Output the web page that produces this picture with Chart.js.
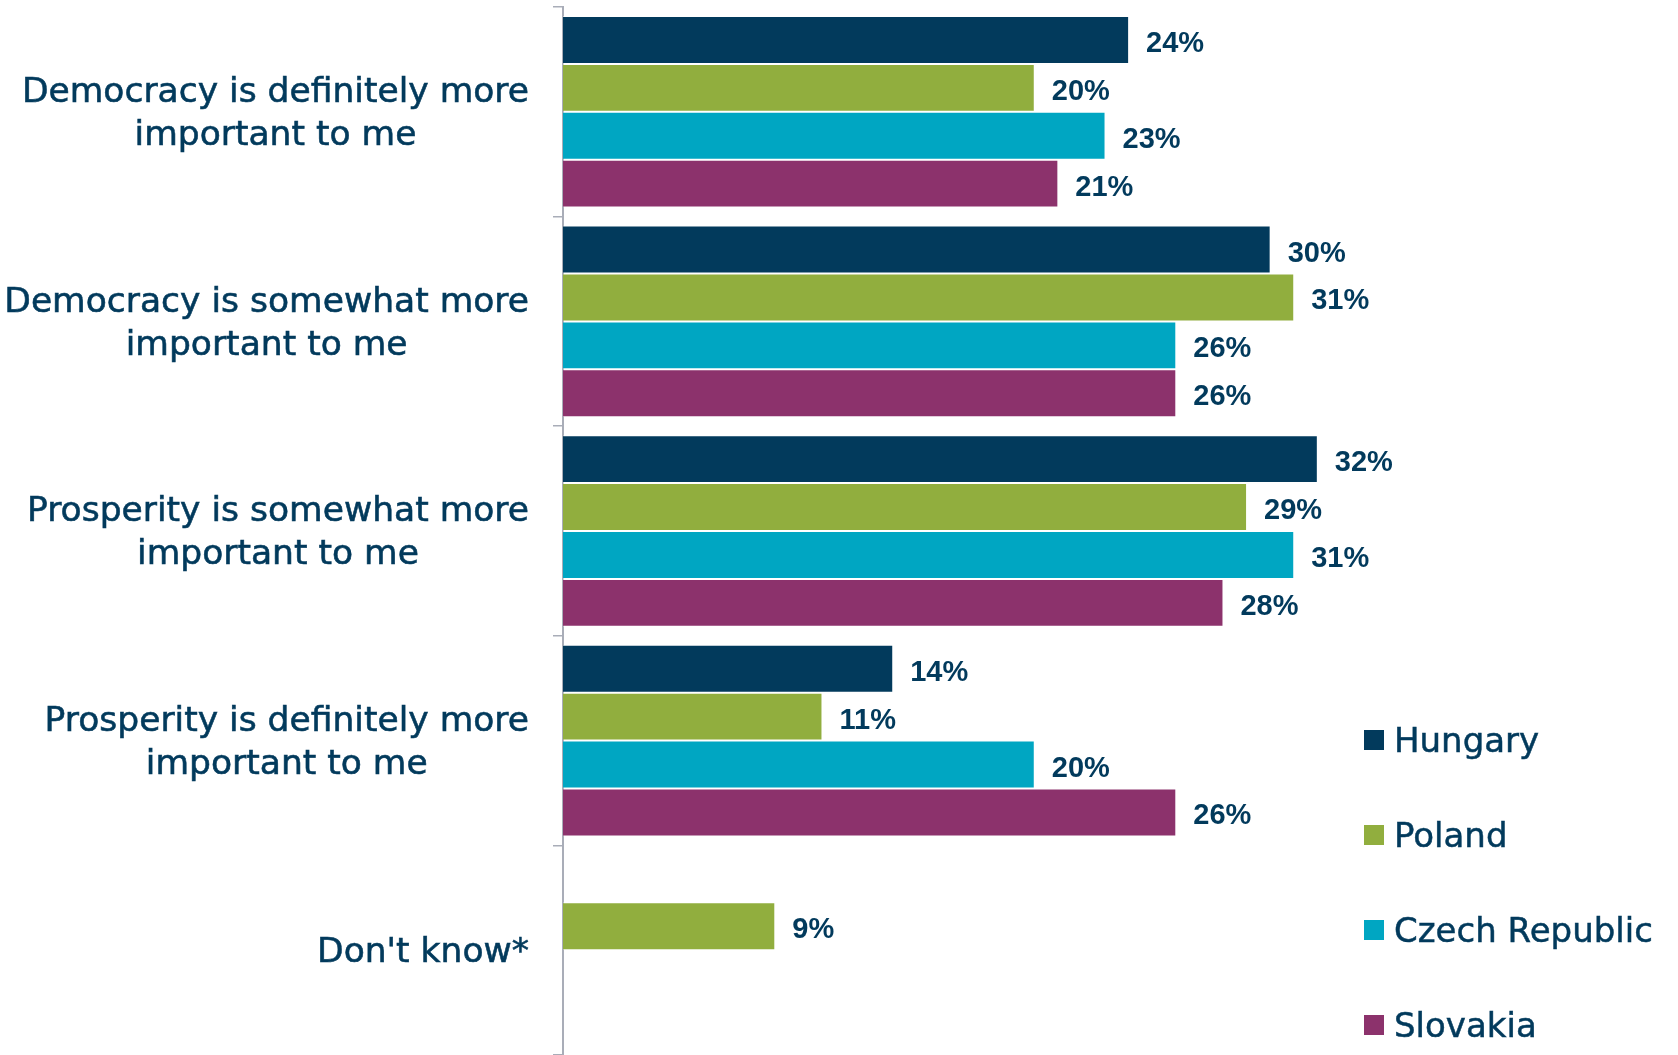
<!DOCTYPE html>
<html>
<head>
<meta charset="utf-8">
<script src="https://cdn.jsdelivr.net/npm/chart.js@4/dist/chart.umd.min.js"></script>
<style>
  body { margin: 0; background: #fff; }
  #wrap { position: relative; width: 1678px; height: 1055px; }
  #legend { position: absolute; left: 1364px; top: 692px; font-family: "DejaVu Sans", sans-serif; font-size: 34px; color: #023a5c; -webkit-text-stroke: 0.5px #023a5c; }
  .item { height: 95px; display: flex; align-items: center; }
  .item span.box { width: 20px; height: 20px; margin-right: 10px; display: inline-block; -webkit-text-stroke: 0; }
</style>
</head>
<body>
<div id="wrap">
  <canvas id="chart" width="1678" height="1055"></canvas>
  <div id="legend"></div>
</div>
<script>
// Data
const CATEGORIES = [
    ["Democracy is definitely more", "important to me"],
    ["Democracy is somewhat more", "important to me"],
    ["Prosperity is somewhat more", "important to me"],
    ["Prosperity is definitely more", "important to me"],
    ["Don't know*"]
];
const SERIES = ["Hungary", "Poland", "Czech Republic", "Slovakia"];
const HUNGARY = [24, 30, 32, 14, null];
const POLAND = [20, 31, 29, 11, 9];
const CZECH = [23, 26, 31, 20, null];
const SLOVAKIA = [21, 26, 28, 26, null];
const COLORS = ["#023a5c", "#91ae3e", "#00a6c2", "#8c326c"];
const TEXT_COLOR = "#023a5c";
const FONT = '"DejaVu Sans", sans-serif';

// Value labels at the end of each bar
const valueLabels = {
    id: 'valueLabels',
    afterDatasetsDraw(chart) {
        const ctx = chart.ctx;
        ctx.save();
        ctx.font = 'bold 29px "Liberation Sans", sans-serif';
        ctx.fillStyle = TEXT_COLOR;
        ctx.textBaseline = 'middle';
        ctx.textAlign = 'left';
        chart.data.datasets.forEach((ds, i) => {
            chart.getDatasetMeta(i).data.forEach((bar, j) => {
                if (ds.data[j] === null) return;
                ctx.fillText(ds.data[j] + '%', bar.x + 17, bar.y + 4);
            });
        });
        ctx.restore();
    }
};

// Category labels: block right-aligned to the axis, lines centred in the block
const categoryLabels = {
    id: 'categoryLabels',
    afterDraw(chart) {
        const ctx = chart.ctx;
        const scale = chart.scales.y;
        const right = scale.right - 34;
        const lineH = 43;
        ctx.save();
        ctx.font = `34.5px ${FONT}`;
        ctx.fillStyle = TEXT_COLOR;
        ctx.strokeStyle = TEXT_COLOR;
        ctx.lineWidth = 0.6;
        ctx.textAlign = 'center';
        ctx.textBaseline = 'middle';
        CATEGORIES.forEach((lines, i) => {
            const y = scale.getPixelForTick(i) + 3;
            const widest = Math.max(...lines.map(l => ctx.measureText(l).width));
            const cx = right - widest / 2;
            lines.forEach((line, k) => {
                const ly = y + (k - (lines.length - 1) / 2) * lineH;
                ctx.fillText(line, cx, ly);
                ctx.strokeText(line, cx, ly);
            });
        });
        ctx.restore();
    }
};

function buildDatasets() {
    return [HUNGARY, POLAND, CZECH, SLOVAKIA].map((values, i) => ({
        label: SERIES[i],
        data: values,
        backgroundColor: COLORS[i],
        borderColor: 'rgba(255,255,255,0.45)',
        borderWidth: 1,
        categoryPercentage: 0.914,
        barPercentage: 1.0
    }));
}

new Chart(document.getElementById('chart'), {
    type: 'bar',
    data: { labels: CATEGORIES, datasets: buildDatasets() },
    options: {
        indexAxis: 'y',
        responsive: false,
        animation: false,
        layout: { autoPadding: false, padding: { top: 7, right: 313, bottom: 0, left: 0 } },
        scales: {
            x: { display: false, min: 0, max: 34 },
            y: {
                afterFit(scale) { scale.width = 563; },
                border: { display: true, color: '#a9adb8', width: 2 },
                grid: { offset: true, drawOnChartArea: false, drawTicks: true, tickLength: 10, color: '#a9adb8', lineWidth: 1.5 },
                ticks: { display: false }
            }
        },
        plugins: {
            legend: { display: false },
            title: { display: false },
            tooltip: { enabled: false }
        }
    },
    plugins: [valueLabels, categoryLabels]
});

// Legend
const legend = document.getElementById('legend');
SERIES.forEach((name, i) => {
    const item = document.createElement('div');
    item.className = 'item';
    item.innerHTML = `<span class="box" style="background:${COLORS[i]}"></span>${name}`;
    legend.appendChild(item);
});
</script>
</body>
</html>
